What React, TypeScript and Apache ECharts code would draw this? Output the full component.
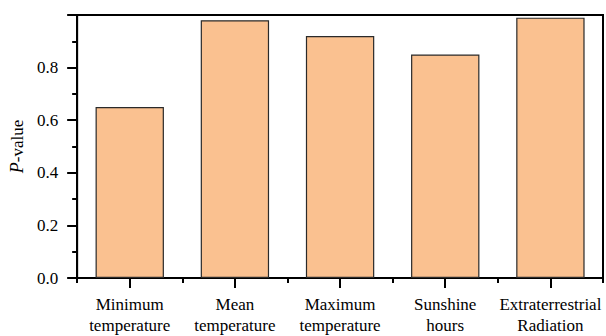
import React, { useEffect, useRef } from "react";
import * as echarts from "echarts";

const categories = [
  "Minimum\ntemperature",
  "Mean\ntemperature",
  "Maximum\ntemperature",
  "Sunshine\nhours",
  "Extraterrestrial\nRadiation",
];
const pValues = [0.65, 0.98, 0.92, 0.85, 0.99];

const FONT = "Liberation Serif";

export default function App() {
  const ref = useRef<HTMLDivElement>(null);
  useEffect(() => {
    if (!ref.current) return;
    const chart = echarts.init(ref.current, null, { renderer: "svg" });
    chart.setOption({
      animation: false,
      textStyle: { fontFamily: FONT },
      grid: {
        left: 75,
        right: 3,
        top: 15,
        bottom: 54,
        show: true,
        borderColor: "#000",
        borderWidth: 2,
      },
      xAxis: [
        {
          type: "category",
          data: categories,
          position: "bottom",
          axisLine: { show: true, lineStyle: { color: "#000", width: 2 } },
          axisTick: {
            show: true,
            alignWithLabel: true,
            length: 10,
            lineStyle: { color: "#000", width: 2 },
          },
          axisLabel: {
            color: "#000",
            fontFamily: FONT,
            fontSize: 17,
            lineHeight: 21,
            margin: 16,
            interval: 0,
          },
        },
        {
          type: "category",
          data: categories,
          position: "bottom",
          axisLine: { show: false },
          axisTick: {
            show: true,
            alignWithLabel: false,
            length: 5,
            lineStyle: { color: "#000", width: 2 },
          },
          axisLabel: { show: false },
        },
      ],
      yAxis: {
        type: "value",
        min: 0,
        max: 1,
        interval: 0.2,
        name: "{i|P}-value",
        nameLocation: "middle",
        nameGap: 50,
        nameRotate: 90,
        nameTextStyle: {
          color: "#000",
          fontFamily: FONT,
          fontSize: 17,
          rich: {
            i: { fontStyle: "italic", fontFamily: FONT, fontSize: 18, color: "#000" },
          },
        },
        axisLine: { show: true, lineStyle: { color: "#000", width: 2 } },
        axisTick: { show: true, length: 10, lineStyle: { color: "#000", width: 2 } },
        minorTick: { show: true, splitNumber: 2, length: 5, lineStyle: { color: "#000", width: 2 } },
        splitLine: { show: false },
        axisLabel: {
          color: "#000",
          fontFamily: FONT,
          fontSize: 17,
          margin: 19,
          formatter: (v: number) => (v >= 1 ? "" : v.toFixed(1)),
        },
      },
      series: [
        {
          type: "bar",
          data: pValues,
          xAxisIndex: 0,
          barWidth: "65%",
          itemStyle: { color: "#FAC190", borderColor: "#2a2a2a", borderWidth: 1.2 },
        },
      ],
    });
    return () => chart.dispose();
  }, []);
  return (
    <div
      ref={ref}
      style={{ position: "absolute", left: 0, top: 0, width: 606, height: 336 }}
    />
  );
}
